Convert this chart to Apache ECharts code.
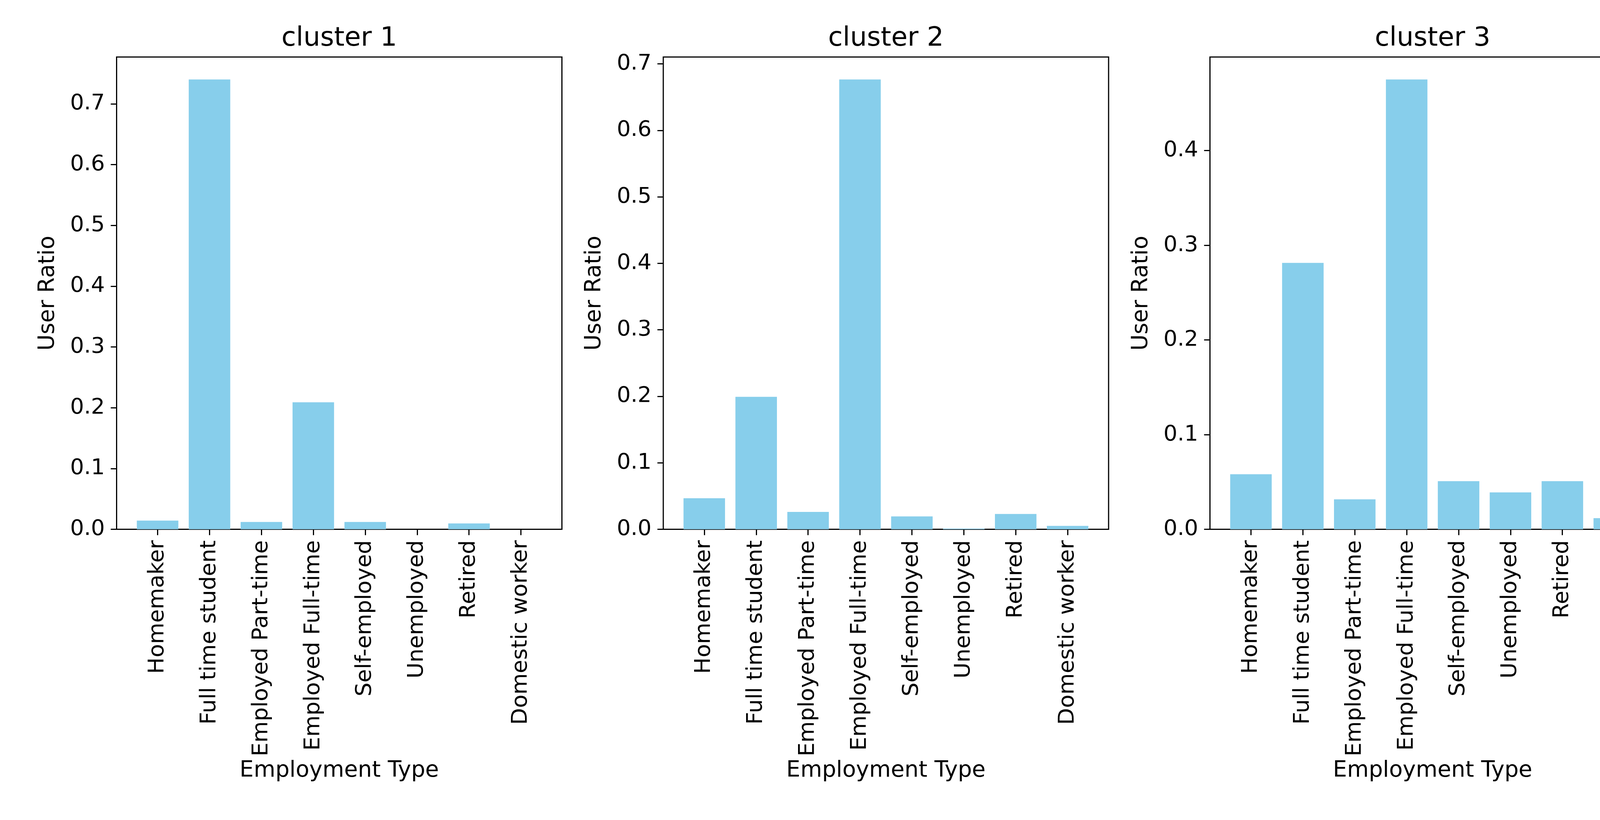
<!DOCTYPE html>
<html>
<head>
<meta charset="utf-8">
<script src="https://cdn.jsdelivr.net/npm/echarts@6/dist/echarts.min.js"></script>
<style>html,body{margin:0;padding:0;background:#fff;}#c{width:5700px;height:2100px;}</style>
</head>
<body>
<div id="c"></div>
<script>
const categories = ['Homemaker', 'Full time student', 'Employed Part-time', 'Employed Full-time', 'Self-employed', 'Unemployed', 'Retired', 'Domestic worker'];
const panelTitles = ['cluster 1', 'cluster 2', 'cluster 3', 'cluster 4'];
const cluster1 = [0.0143, 0.740, 0.012, 0.209, 0.012, 0, 0.0097, 0];
const cluster2 = [0.0467, 0.1993, 0.0262, 0.6765, 0.0194, 0.001, 0.0231, 0.0052];
const cluster3 = [0.0582, 0.2814, 0.0317, 0.4751, 0.0508, 0.0390, 0.0508, 0.0118];
const cluster4 = [0.2846, 0.1862, 0.0514, 0.1551, 0.0536, 0.0463, 0.1882, 0.0340];
const ticks1 = [0, 0.1, 0.2, 0.3, 0.4, 0.5, 0.6, 0.7];
const ticks2 = [0, 0.1, 0.2, 0.3, 0.4, 0.5, 0.6, 0.7];
const ticks3 = [0, 0.1, 0.2, 0.3, 0.4];
const ticks4 = [0, 0.05, 0.10, 0.15, 0.20, 0.25];
const tickDecimals = [1, 1, 1, 2];
const xLabel = 'Employment Type';
const yLabel = 'User Ratio';

const seriesData = [cluster1, cluster2, cluster3, cluster4];
const tickSets = [ticks1, ticks2, ticks3, ticks4];

const FONT = 'DejaVu Sans';
const frameLeft0 = 298.5, frameStep = 1399.5, frameW = 1140, frameTop = 146, frameH = 1209.5;
const inset = 38.5;
const tickFs = 56, titleFs = 68, labelFs = 57;

const grid = [], xAxis = [], yAxis = [], series = [], title = [];
for (let i = 0; i < 4; i++) {
  const left = frameLeft0 + i * frameStep;
  const ymax = Math.max(...seriesData[i]) * 1.05;
  grid.push({left: left, top: frameTop, width: frameW, height: frameH, show: true,
    borderColor: '#000', borderWidth: 3, backgroundColor: 'transparent', containLabel: false});
  grid.push({left: left + inset, top: frameTop, width: frameW - 2 * inset, height: frameH, containLabel: false});
  const fg = 2 * i, dg = 2 * i + 1;
  xAxis.push({gridIndex: fg, type: 'value', show: false, min: 0, max: 1});
  yAxis.push({gridIndex: fg, type: 'value', show: false, min: 0, max: 1});
  const dec = tickDecimals[i];
  xAxis.push({
    gridIndex: dg, type: 'category', data: categories, boundaryGap: true,
    axisLine: {show: false},
    axisTick: {show: true, alignWithLabel: true, length: 15, lineStyle: {color: '#000', width: 3}},
    axisLabel: {rotate: 90, interval: 0, margin: 28, color: '#000', fontFamily: FONT, fontSize: tickFs},
    name: xLabel, nameLocation: 'middle', nameGap: 590,
    nameTextStyle: {color: '#000', fontFamily: FONT, fontSize: labelFs},
    splitLine: {show: false}
  });
  yAxis.push({
    gridIndex: dg, type: 'value', min: 0, max: ymax, position: 'left', offset: inset,
    axisLine: {show: false},
    axisTick: {show: true, length: 15, lineStyle: {color: '#000', width: 3}, customValues: tickSets[i]},
    axisLabel: {margin: 30, color: '#000', fontFamily: FONT, fontSize: tickFs, customValues: tickSets[i],
      formatter: v => Number(v).toFixed(dec)},
    splitLine: {show: false},
    name: yLabel, nameLocation: 'middle', nameGap: 147,
    nameTextStyle: {color: '#000', fontFamily: FONT, fontSize: labelFs}
  });
  series.push({
    type: 'bar', xAxisIndex: dg, yAxisIndex: dg, data: seriesData[i],
    barCategoryGap: '20%', itemStyle: {color: '#87CEEB'}, silent: true
  });
  title.push({
    text: panelTitles[i], left: left + frameW / 2, top: 65, textAlign: 'center', padding: 0,
    textStyle: {color: '#000', fontFamily: FONT, fontSize: titleFs, fontWeight: 'normal'}
  });
}

const chart = echarts.init(document.getElementById('c'), null, {renderer: 'canvas'});
chart.setOption({animation: false, backgroundColor: '#fff', title, grid, xAxis, yAxis, series});
</script>
</body>
</html>
